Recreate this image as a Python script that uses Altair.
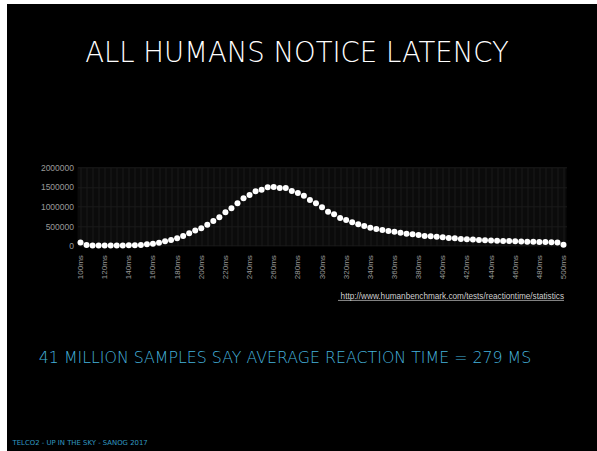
import altair as alt
import pandas as pd

# Reaction-time histogram buckets (ms) and number of samples in each bucket
reaction_ms = [
    100, 105, 110, 115, 120, 125, 130, 135, 140, 145,
    150, 155, 160, 165, 170, 175, 180, 185, 190, 195,
    200, 205, 210, 215, 220, 225, 230, 235, 240, 245,
    250, 255, 260, 265, 270, 275, 280, 285, 290, 295,
    300, 305, 310, 315, 320, 325, 330, 335, 340, 345,
    350, 355, 360, 365, 370, 375, 380, 385, 390, 395,
    400, 405, 410, 415, 420, 425, 430, 435, 440, 445,
    450, 455, 460, 465, 470, 475, 480, 485, 490, 495,
    500,
]
sample_counts = [
    80000, 15000, 8000, 5000, 4000, 4000, 5000, 6000, 9000, 14000,
    20000, 35000, 52000, 77000, 111000, 145000, 188000, 247000, 315000, 385000,
    443000, 537000, 630000, 724000, 851000, 953000, 1081000, 1208000, 1293000, 1387000,
    1429000, 1489000, 1500000, 1475000, 1474000, 1395000, 1344000, 1276000, 1166000, 1081000,
    980000, 868000, 800000, 707000, 656000, 596000, 545000, 503000, 460000, 426000,
    400000, 375000, 358000, 332000, 307000, 290000, 273000, 247000, 239000, 230000,
    213000, 196000, 188000, 171000, 162000, 158000, 145000, 140000, 135000, 128000,
    120000, 117000, 113000, 108000, 103000, 100000, 94000, 92000, 86000, 84000,
    26000,
]
y_ticks = [0, 500000, 1000000, 1500000, 2000000]

title_text = "ALL HUMANS NOTICE LATENCY"
summary_text = "41 MILLION SAMPLES SAY AVERAGE REACTION TIME = 279 MS"
source_text = "http://www.humanbenchmark.com/tests/reactiontime/statistics"
footer_text = "TELCO2 - UP IN THE SKY - SANOG 2017"

# Canvas and plot-area geometry (pixels)
W, H = 597, 451
PL, PT = 77.5, 167.3
PW, PH = 489.0, 78.4

df = pd.DataFrame({"ms": reaction_ms, "samples": sample_counts})

x_enc = alt.X(
    "ms:Q",
    scale=alt.Scale(domain=[97.5, 502.5], nice=False, zero=False),
    axis=alt.Axis(
        values=reaction_ms,
        labelExpr="datum.value % 20 == 0 ? datum.value + 'ms' : ''",
        labelAngle=270,
        labelAlign="right",
        labelBaseline="middle",
        labelPadding=9,
        labelFontSize=8,
        labelColor="#9a9a9a",
        labelFont="Liberation Sans",
        labelOverlap=False,
        labelFlush=False,
        ticks=False,
        domain=False,
        grid=True,
        gridColor="#1b1b1b",
        gridWidth=1,
        title=None,
    ),
)
y_enc = alt.Y(
    "samples:Q",
    scale=alt.Scale(domain=[0, 2000000], nice=False),
    axis=alt.Axis(
        values=y_ticks,
        format="d",
        labelFontSize=8.5,
        labelColor="#9a9a9a",
        labelFont="Liberation Sans",
        labelPadding=4,
        ticks=False,
        domain=False,
        grid=True,
        gridColor="#1b1b1b",
        gridWidth=1,
        title=None,
    ),
)

points = alt.Chart(df).mark_circle(size=36, color="white", opacity=1).encode(
    x=x_enc, y=y_enc
)

one = pd.DataFrame({"k": [0]})


def label(text, px, py, size, color, font, weight="normal", align="center"):
    return alt.Chart(pd.DataFrame({"t": [text]})).mark_text(
        fontSize=size, color=color, font=font, fontWeight=weight,
        align=align, baseline="alphabetic",
    ).encode(text="t:N", x=alt.value(px - PL), y=alt.value(py - PT))


title = label(title_text, 297, 61.5, 27.5, "white", "DejaVu Sans", weight=200)
summary = label(summary_text, 285, 363, 15.8, "#45b2dc", "DejaVu Sans", weight=300)
source = label(source_text, 564, 298.5, 8.2, "#d0d0d0", "Liberation Sans", align="right")
footer = label(footer_text, 12.5, 445.3, 6.9, "#3199c0", "DejaVu Sans", align="left")

underline = alt.Chart(one).mark_rule(color="#d0d0d0", strokeWidth=0.7).encode(
    x=alt.value(338 - PL), x2=alt.value(564 - PL), y=alt.value(300.4 - PT)
)

# Light margin along the left and top edges of the slide
edge_left = alt.Chart(one).mark_rect(color="white").encode(
    x=alt.value(-PL), x2=alt.value(7 - PL), y=alt.value(-PT), y2=alt.value(H - PT)
)
edge_top = alt.Chart(one).mark_rect(color="white").encode(
    x=alt.value(-PL), x2=alt.value(W - PL), y=alt.value(-PT), y2=alt.value(4 - PT)
)

chart = alt.layer(
    points, title, summary, source, underline, footer, edge_left, edge_top
).properties(
    width=PW,
    height=PH,
    background="black",
    padding={"left": PL, "top": PT, "right": W - PL - PW, "bottom": H - PT - PH},
    autosize=alt.AutoSizeParams(type="none"),
).configure_view(
    fill="#0b0b0b", stroke=None
)

chart.save("out.html", embed_options={"renderer": "svg", "actions": False})
